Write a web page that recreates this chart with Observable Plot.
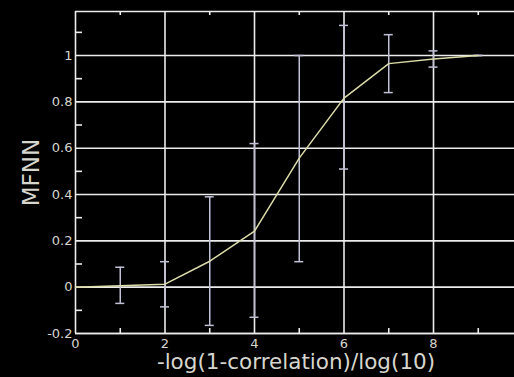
<!DOCTYPE html>
<html><head><meta charset="utf-8">
<script src="https://cdn.jsdelivr.net/npm/d3@7"></script>
<script src="https://cdn.jsdelivr.net/npm/@observablehq/plot@0.6"></script>
<style>html,body{margin:0;padding:0;background:#000;overflow:hidden;}</style>
</head><body><div id="chart"></div>
<script>
// Error bar data
const barX = [1, 2, 3, 4, 5, 6, 7, 8, 9];
const barMean = [0.008, 0.013, 0.112, 0.242, 0.557, 0.816, 0.965, 0.985, 1.0];
const barLow = [-0.07, -0.085, -0.165, -0.13, 0.11, 0.51, 0.84, 0.95, 1.0];
const barHigh = [0.086, 0.11, 0.39, 0.62, 1.0, 1.13, 1.09, 1.02, 1.0];
// Fitted curve
const curveX = [0, 1, 2, 3, 4, 5, 6, 7, 8, 9];
const curveY = [0, 0.006, 0.013, 0.112, 0.242, 0.557, 0.816, 0.965, 0.985, 1.0];
// Ticks
const xMajor = [0, 2, 4, 6, 8];
const yMajor = [-0.2, 0, 0.2, 0.4, 0.6, 0.8, 1];
const xMinor = [1, 3, 5, 7, 9];
const yMinor = [-0.1, 0.1, 0.3, 0.5, 0.7, 0.9, 1.1];
const xDomain = [0, 9.81];
const yDomain = [-0.2, 1.19];
const xLabel = "-log(1-correlation)/log(10)";
const yLabel = "MFNN";

const bars = barX.map((x, i) => ({x, mean: barMean[i], lo: barLow[i], hi: barHigh[i]}));
const curve = curveX.map((x, i) => ({x, y: curveY[i]}));

const W = 514, H = 377, ML = 75, MR = 0, MT = 11, MB = 44;
const PW = W - ML - MR, PH = H - MT - MB;
const grid = "#ececec", barColor = "#c0c0d6", lineColor = "#dcdcaa", textColor = "#d6d6ce";
const gw = 1.6;

const chart = Plot.plot({
  width: W, height: H,
  marginLeft: ML, marginRight: MR, marginTop: MT, marginBottom: MB,
  style: {background: "#000", color: textColor, fontFamily: "DejaVu Sans, sans-serif", overflow: "hidden"},
  x: {domain: xDomain, axis: null},
  y: {domain: yDomain, axis: null},
  marks: [
    Plot.ruleX(xMajor, {stroke: grid, strokeWidth: gw}),
    Plot.ruleY(yMajor, {stroke: grid, strokeWidth: gw}),
    Plot.ruleY(yDomain, {stroke: grid, strokeWidth: gw}),
    Plot.ruleX(xMinor, {stroke: grid, strokeWidth: gw, insetBottom: PH - 4}),
    Plot.ruleX(xMinor, {stroke: grid, strokeWidth: gw, insetTop: PH - 5}),
    Plot.ruleY(yMinor, {stroke: grid, strokeWidth: gw, insetRight: PW - 7}),
    Plot.ruleX(bars, {x: "x", y1: "lo", y2: "hi", stroke: barColor, strokeWidth: 1.5}),
    Plot.ruleY(bars, {y: "hi", x1: "x", x2: "x", insetLeft: -4.5, insetRight: -4.5, stroke: barColor, strokeWidth: 1.5}),
    Plot.ruleY(bars, {y: "lo", x1: "x", x2: "x", insetLeft: -4.5, insetRight: -4.5, stroke: barColor, strokeWidth: 1.5}),
    Plot.line(curve, {x: "x", y: "y", stroke: lineColor, strokeWidth: 1.5}),
    Plot.axisY(yMajor, {tickSize: 0, tickPadding: 3, fontSize: 13, label: null, tickFormat: d => String(d)}),
    Plot.axisX(xMajor, {tickSize: 0, tickPadding: 5, fontSize: 13, label: null, tickFormat: d => String(d)}),
    Plot.text([xLabel], {frameAnchor: "bottom", text: d => d, textAnchor: "middle", lineAnchor: "middle", dx: 1, dy: 29, fontSize: 21.5, fill: textColor}),
    Plot.text([yLabel], {frameAnchor: "left", text: d => d, textAnchor: "middle", lineAnchor: "middle", rotate: -90, dx: -44, fontSize: 23, fill: textColor})
  ]
});
document.getElementById("chart").appendChild(chart);
</script>
</body></html>
